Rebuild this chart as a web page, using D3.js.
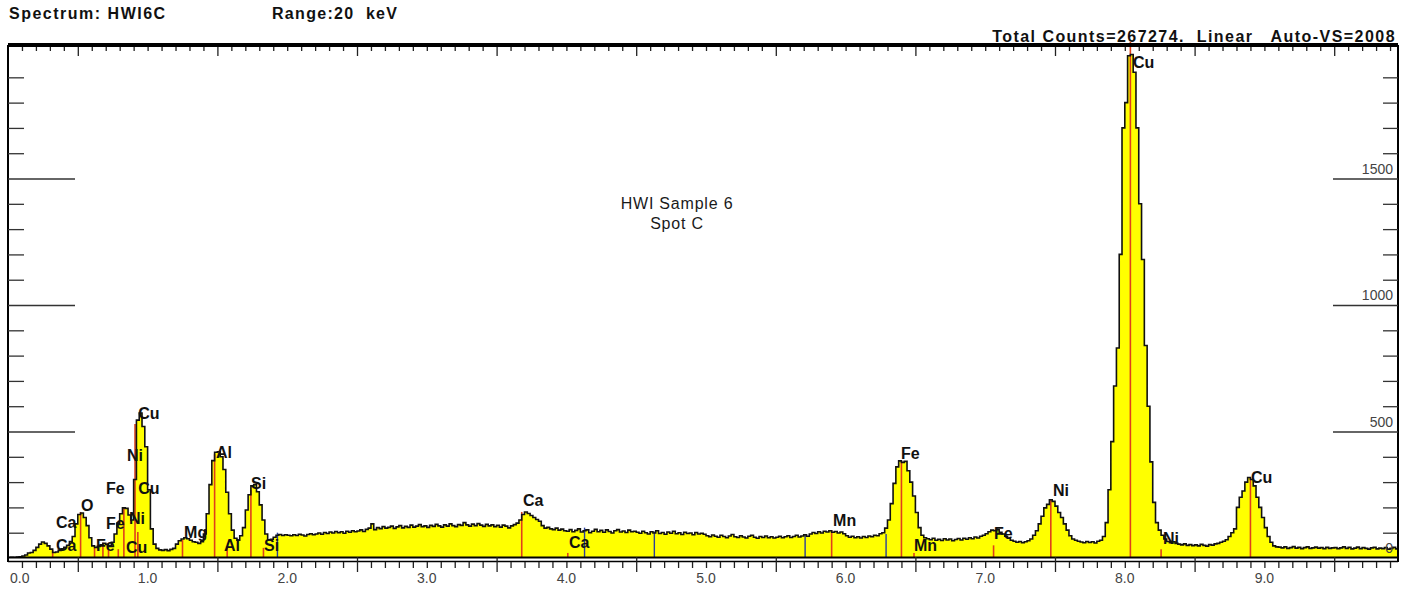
<!DOCTYPE html>
<html>
<head>
<meta charset="utf-8">
<script src="https://cdn.jsdelivr.net/npm/d3@7"></script>
<style>
  html, body { margin: 0; padding: 0; background: #fff; }
  svg { display: block; }
  text { font-family: "Liberation Sans", Arial, sans-serif; }
</style>
</head>
<body>
<svg id="chart" width="1416" height="592"></svg>
<script>
// EDS spectrum, 20 eV channels starting at 0 keV
const channelWidth = 0.02;
const counts = [
  // 0.00 - 0.48 keV
  2, 3, 2, 4, 5, 8, 12, 20, 22, 30, 42, 55, 63, 58, 48, 35, 22, 24, 30, 36, 42, 50, 65, 85, 135,
  // 0.50 - 0.98
  172, 178, 160, 128, 80, 48, 42, 46, 52, 58, 54, 48, 62, 95, 138, 175, 198, 196, 170, 150, 310, 545, 573, 520, 440,
  // 1.00 - 1.48
  270, 115, 55, 38, 32, 30, 33, 29, 34, 38, 55, 68, 75, 80, 76, 70, 64, 62, 58, 64, 95, 175, 290, 385, 418,
  // 1.50 - 1.98
  420, 400, 350, 260, 175, 110, 78, 70, 88, 120, 190, 250, 285, 290, 262, 210, 150, 95, 72, 74, 82, 90, 93, 89, 92,
  // 2.00 - 2.48
  90, 88, 92, 89, 94, 91, 87, 93, 96, 92, 95, 99, 94, 101, 97, 103, 99, 105, 100, 104, 98, 106, 102, 108, 104,
  // 2.50 - 2.98
  107, 111, 105, 113, 118, 135, 112, 120, 116, 124, 118, 121, 126, 117, 123, 128, 119, 125, 121, 130, 122, 126, 132, 124, 127,
  // 3.00 - 3.48
  121, 129, 125, 133, 127, 122, 131, 126, 135, 128, 124, 132, 129, 140, 131, 126, 134, 128, 136, 130, 125, 133, 127, 131, 124,
  // 3.50 - 3.98
  129, 122, 130, 126, 119, 127, 132, 138, 150, 172, 182, 176, 168, 160, 152, 145, 128, 118, 121, 115, 112, 118, 110, 114, 108,
  // 4.00 - 4.48
  106, 112, 104, 109, 115, 103, 108, 111, 100, 106, 113, 104, 109, 102, 111, 105, 99, 108, 112, 103, 107, 101, 110, 104, 106,
  // 4.50 - 4.98
  102, 98, 106, 100, 95, 104, 99, 108, 97, 101, 94, 103, 98, 106, 96, 100, 93, 102, 97, 99, 92, 101, 95, 98, 94,
  // 5.00 - 5.48
  88, 84, 91, 86, 82, 90, 85, 80, 87, 93, 84, 81, 88, 83, 79, 86, 90, 82, 78, 85, 81, 87, 80, 84, 79,
  // 5.50 - 5.98
  82, 86, 80, 84, 88, 81, 85, 90, 83, 87, 92, 86, 95, 101, 97, 104, 99, 106, 103, 108, 102, 105, 99, 103, 96,
  // 6.00 - 6.48
  88, 82, 86, 80, 84, 79, 85, 81, 87, 84, 90, 88, 96, 100, 118, 150, 215, 295, 360, 384, 378, 382, 345, 300, 245,
  // 6.50 - 6.98
  180, 120, 90, 80, 76, 72, 78, 70, 74, 69, 76, 71, 75, 68, 73, 77, 71, 78, 74, 80, 76, 83, 79, 86, 90,
  // 7.00 - 7.48
  96, 104, 110, 108, 112, 102, 95, 86, 78, 70, 66, 62, 65, 60, 64, 68, 75, 90, 108, 135, 165, 198, 212, 230, 224,
  // 7.50 - 7.98
  205, 180, 160, 135, 110, 88, 75, 70, 66, 63, 60, 65, 61, 64, 59, 66, 70, 85, 140, 270, 460, 680, 830, 1200, 1700,
  // 8.00 - 8.48
  1800, 1985, 1990, 1920, 1700, 1400, 1180, 840, 600, 380, 220, 140, 110, 90, 75, 65, 60, 64, 58, 55, 52, 56, 50, 53, 49,
  // 8.50 - 8.98
  52, 48, 54, 50, 47, 53, 51, 56, 58, 62, 66, 72, 85, 100, 115, 200, 240, 265, 300, 318, 310, 285, 240, 200, 160,
  // 9.00 - 9.48
  120, 85, 62, 48, 44, 43, 40, 44, 38, 41, 45, 39, 42, 37, 41, 44, 38, 40, 43, 39, 41, 37, 42, 38, 40,
  // 9.50 - 9.98
  41, 37, 40, 44, 38, 42, 36, 39, 43, 37, 41, 38, 35, 40, 42, 36, 39, 37, 41, 35, 38, 42, 36, 40, 38
];

// Energy axis
const xTickValues = [0, 1, 2, 3, 4, 5, 6, 7, 8, 9];
const xTickLabels = ["0.0", "1.0", "2.0", "3.0", "4.0", "5.0", "6.0", "7.0", "8.0", "9.0"];
// Counts axis
const yTickValues = [0, 500, 1000, 1500];
const yTickLabels = ["0", "500", "1000", "1500"];

// Identified line markers (keV, counts reached)
const idLineEnergy = [0.32, 0.52, 0.62, 0.68, 0.72, 0.79, 0.83, 0.91, 0.93, 1.25, 1.48, 1.57, 1.74, 1.83,
                      3.68, 4.01, 5.90, 6.40, 6.49, 7.06, 7.47, 8.04, 8.26, 8.90];
const idLineCounts = [30, 182, 40, 60, 35, 35, 198, 530, 103, 71, 410, 40, 270, 40,
                      182, 20, 110, 383, 20, 50, 229, 2040, 35, 316];
// Escape / sum peak markers
const escLineEnergy = [1.93, 4.13, 4.63, 5.71, 6.29];
const escLineCounts = [100, 120, 105, 95, 95];

// Element labels (text, keV at left edge, counts at text middle)
const labelText   = ["Cu", "Ni", "Fe", "Cu", "Fe", "Ni", "Ca", "O", "Ca", "Fe", "Cu", "Mg", "Al", "Al", "Si", "Si",
                     "Ca", "Ca", "Mn", "Mn", "Fe", "Fe", "Ni", "Cu", "Ni", "Cu"];
const labelEnergy = [0.925, 0.845, 0.695, 0.925, 0.695, 0.86, 0.337, 0.516, 0.337, 0.623, 0.838, 1.254, 1.483, 1.54, 1.734, 1.827,
                     3.682, 4.011, 5.903, 6.483, 6.39, 7.056, 7.479, 8.052, 8.266, 8.897];
const labelCounts = [573, 407, 277, 277, 138, 158, 142, 209, 51, 51, 43, 103, 419, 51, 296, 51,
                     229, 63, 150, 51, 415, 99, 269, 1960, 79, 320];

const headerSpectrum = "Spectrum: HWI6C";
const headerRange = "Range:20  keV";
const headerTotals = "Total Counts=267274.  Linear   Auto-VS=2008";
const noteLines = ["HWI Sample 6", "Spot C"];

// ---- layout ----
const plotLeft = 8, plotRight = 1398, plotTop = 47, baseY = 558;
const x = d3.scaleLinear().domain([0, 10]).range([8, 1404]);
const y = d3.scaleLinear().domain([0, 2008]).range([baseY, 50]);

const svg = d3.select("#chart");

// headers
svg.append("text").attr("x", 9).attr("y", 19)
  .style("font-weight", "bold").style("font-size", "16px").style("letter-spacing", "1.5px")
  .attr("fill", "#111").text(headerSpectrum);
svg.append("text").attr("x", 272).attr("y", 19)
  .style("font-weight", "bold").style("font-size", "16px").style("letter-spacing", "1.3px")
  .style("white-space", "pre").attr("fill", "#111").text(headerRange);
svg.append("text").attr("x", 1396).attr("y", 42).attr("text-anchor", "end")
  .style("font-weight", "bold").style("font-size", "16px").style("letter-spacing", "1.45px")
  .style("white-space", "pre").attr("fill", "#111").text(headerTotals);

// spectrum
const pts = counts.map((c, i) => [i * channelWidth, c]);
pts.push([counts.length * channelWidth, counts[counts.length - 1]]);

svg.append("defs").append("clipPath").attr("id", "plotClip")
  .append("rect").attr("x", plotLeft).attr("y", 40).attr("width", plotRight - plotLeft).attr("height", baseY - 40);

const g = svg.append("g").attr("clip-path", "url(#plotClip)");

const area = d3.area().curve(d3.curveStepAfter)
  .x(d => x(d[0])).y0(y(0) - 1).y1(d => y(d[1]));
const line = d3.line().curve(d3.curveStepAfter)
  .x(d => x(d[0])).y(d => y(d[1]));

g.append("path").datum(pts).attr("d", area).attr("fill", "#ffff00");

// markers
g.selectAll("line.esc").data(escLineEnergy).join("line").attr("class", "esc")
  .attr("x1", d => x(d)).attr("x2", d => x(d))
  .attr("y1", y(0)).attr("y2", (d, i) => y(escLineCounts[i]))
  .attr("stroke", "#2a3f9a").attr("stroke-width", 1.4);
g.selectAll("line.idl").data(idLineEnergy).join("line").attr("class", "idl")
  .attr("x1", d => x(d)).attr("x2", d => x(d))
  .attr("y1", y(0)).attr("y2", (d, i) => y(idLineCounts[i]))
  .attr("stroke", "#e0401a").attr("stroke-width", 1.6);

g.append("path").datum(pts).attr("d", line)
  .attr("fill", "none").attr("stroke", "#111").attr("stroke-width", 1.6);

// element labels
svg.append("g").selectAll("text").data(labelText).join("text")
  .attr("x", (d, i) => x(labelEnergy[i]) + 1)
  .attr("y", (d, i) => y(labelCounts[i]) + 6)
  .style("font-weight", "bold").style("font-size", "16px")
  .attr("fill", "#111").text(d => d);

// note
svg.append("g").selectAll("text").data(noteLines).join("text")
  .attr("x", 677).attr("y", (d, i) => 209 + i * 20).attr("text-anchor", "middle")
  .style("font-size", "16px").style("letter-spacing", "0.8px")
  .attr("fill", "#1a1a1a").text(d => d);

// ---- frame and axes ----
const frame = svg.append("g");
frame.append("rect").attr("x", plotLeft).attr("y", 43).attr("width", plotRight - plotLeft).attr("height", 4).attr("fill", "#000");
frame.append("line").attr("x1", plotLeft).attr("x2", plotLeft).attr("y1", 45).attr("y2", baseY + 4)
  .attr("stroke", "#000").attr("stroke-width", 2);
frame.append("line").attr("x1", plotRight).attr("x2", plotRight).attr("y1", 45).attr("y2", baseY + 4)
  .attr("stroke", "#000").attr("stroke-width", 2);
frame.append("line").attr("x1", plotLeft).attr("x2", plotRight).attr("y1", baseY - 0.5).attr("y2", baseY - 0.5)
  .attr("stroke", "#000").attr("stroke-width", 2);
frame.append("line").attr("x1", plotLeft).attr("x2", plotRight).attr("y1", baseY + 3.5).attr("y2", baseY + 3.5)
  .attr("stroke", "#000").attr("stroke-width", 1.5);

function styleAxis(sel, color) {
  sel.select(".domain").remove();
  sel.selectAll(".tick line").attr("stroke", color).attr("stroke-width", 1.3);
}

const minorE = d3.range(1, 100).filter(k => k % 5 !== 0).map(k => k / 10);
const halfE = d3.range(0, 10).map(k => k + 0.5);
const intE = d3.range(1, 10);

// bottom ticks
svg.append("g").attr("transform", `translate(0,${baseY + 4})`)
  .call(d3.axisBottom(x).tickValues(minorE.concat(intE)).tickSize(6).tickFormat(""))
  .call(s => styleAxis(s, "#222"));
svg.append("g").attr("transform", `translate(0,${baseY - 1})`)
  .call(d3.axisBottom(x).tickValues(halfE.filter(v => v < 9.96)).tickSize(15).tickFormat(""))
  .call(s => styleAxis(s, "#222"));
// bottom labels
svg.append("g").selectAll("text").data(xTickValues).join("text")
  .attr("x", (d, i) => i === 0 ? x(d) + 2 : x(d))
  .attr("y", 583)
  .attr("text-anchor", (d, i) => i === 0 ? "start" : "middle")
  .style("font-size", "14px").attr("fill", "#444")
  .text((d, i) => xTickLabels[i]);

// top ticks
svg.append("g").attr("transform", `translate(0,${plotTop})`)
  .call(d3.axisBottom(x).tickValues(minorE.concat(intE)).tickSize(4).tickFormat(""))
  .call(s => styleAxis(s, "#222"));
svg.append("g").attr("transform", `translate(0,${plotTop})`)
  .call(d3.axisBottom(x).tickValues(halfE.filter(v => v < 9.96)).tickSize(9).tickFormat(""))
  .call(s => styleAxis(s, "#222"));

// left ticks
const minorC = d3.range(100, 2000, 100).filter(v => v % 500 !== 0);
svg.append("g").attr("transform", `translate(${plotLeft},0)`)
  .call(d3.axisRight(y).tickValues(minorC).tickSize(16).tickFormat(""))
  .call(s => styleAxis(s, "#333"));
svg.append("g").attr("transform", `translate(${plotLeft},0)`)
  .call(d3.axisRight(y).tickValues(yTickValues.slice(1)).tickSize(67).tickFormat(""))
  .call(s => styleAxis(s, "#333"));

// right ticks
svg.append("g").attr("transform", `translate(${plotRight},0)`)
  .call(d3.axisLeft(y).tickValues(minorC).tickSize(15).tickFormat(""))
  .call(s => styleAxis(s, "#333"));
svg.append("g").attr("transform", `translate(${plotRight},0)`)
  .call(d3.axisLeft(y).tickValues(yTickValues.slice(1)).tickSize(65).tickFormat(""))
  .call(s => styleAxis(s, "#333"));
// right labels
svg.append("g").selectAll("text").data(yTickValues).join("text")
  .attr("x", plotRight - 5).attr("y", d => y(d) - 5)
  .attr("text-anchor", "end")
  .style("font-size", "14px").attr("fill", "#444")
  .text((d, i) => yTickLabels[i]);
</script>
</body>
</html>
